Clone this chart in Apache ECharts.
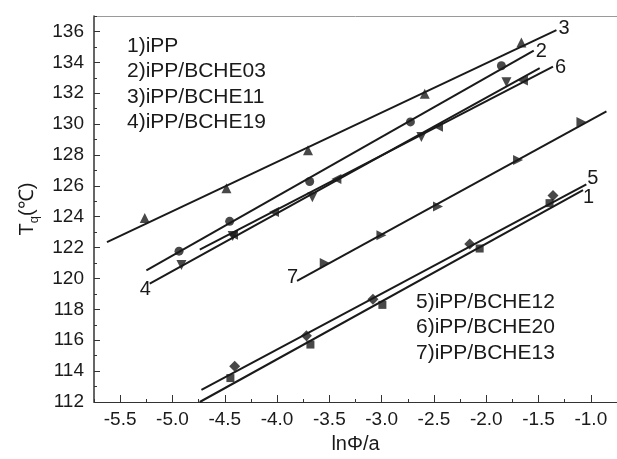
<!DOCTYPE html>
<html>
<head>
<meta charset="utf-8">
<script src="https://cdn.jsdelivr.net/npm/echarts@6/dist/echarts.min.js"></script>
<style>
  html, body { margin: 0; padding: 0; background: #fff; }
  #chart { width: 617px; height: 459px; }
</style>
</head>
<body>
<div id="chart"></div>
<script>
// Tick labels
const xTickLabels = [-5.5, -5.0, -4.5, -4.0, -3.5, -3.0, -2.5, -2.0, -1.5, -1.0];
const yTickLabels = [112, 114, 116, 118, 120, 122, 124, 126, 128, 130, 132, 134, 136];

// Measured points: [lnΦ/a, Tq]
const iPP      = [[-4.446, 113.55], [-3.681, 115.72], [-2.993, 118.29], [-2.063, 121.94], [-1.395, 124.88]];
const bche03   = [[-4.937, 121.77], [-4.453, 123.70], [-3.688, 126.28], [-2.725, 130.14], [-1.855, 133.78]];
const bche11   = [[-5.265, 123.91], [-4.484, 125.84], [-3.704, 128.31], [-2.588, 131.96], [-1.664, 135.29]];
const bche19   = [[-4.914, 120.87], [-4.424, 122.75], [-3.662, 125.26], [-2.620, 129.17], [-1.807, 132.71]];
const bche12   = [[-4.405, 114.32], [-3.719, 116.29], [-3.083, 118.65], [-2.158, 122.24], [-1.362, 125.37]];
const bche20   = [[-4.421, 122.84], [-4.029, 124.30], [-3.433, 126.44], [-2.461, 129.82], [-1.649, 132.82]];
const bche13   = [[-3.544, 121.01], [-3.002, 122.80], [-2.461, 124.67], [-1.696, 127.67], [-1.090, 130.14]];

// Linear fits, drawn between these end points
const fit1 = [[-4.739, 112.00], [-1.075, 125.73]];
const fit2 = [[-5.249, 120.52], [-1.546, 134.75]];
const fit3 = [[-5.626, 122.35], [-1.329, 136.08]];
const fit4 = [[-5.217, 119.66], [-1.489, 133.62]];
const fit5 = [[-4.723, 112.79], [-1.043, 126.10]];
const fit6 = [[-4.739, 121.87], [-1.362, 133.72]];
const fit7 = [[-3.809, 119.84], [-0.851, 130.82]];

// Legend blocks
const legendLeft  = ['1)iPP', '2)iPP/BCHE03', '3)iPP/BCHE11', '4)iPP/BCHE19'];
const legendRight = ['5)iPP/BCHE12', '6)iPP/BCHE20', '7)iPP/BCHE13'];

const FONT = '"Liberation Sans", Arial, sans-serif';
const INK = '#1a1a1a';

const chart = echarts.init(document.getElementById('chart'), null, { renderer: 'canvas' });

function fitSeries(name, pts) {
  return {
    name: name,
    type: 'line',
    xAxisIndex: 0, yAxisIndex: 0,
    data: pts,
    symbol: 'none',
    silent: true,
    z: 2,
    lineStyle: { color: INK, width: 2 }
  };
}

// Number tag placed at one end of a fitted line
function tagItem(pts, tag, side, offset) {
  return {
    value: side === 'left' ? pts[0] : pts[pts.length - 1],
    label: {
      show: true,
      formatter: tag,
      position: side,
      distance: 2,
      offset: offset,
      fontSize: 20,
      fontFamily: FONT,
      color: INK,
      opacity: 1
    }
  };
}

function markSeries(name, pts, symbol, rotate, size) {
  return {
    name: name,
    type: 'scatter',
    xAxisIndex: 0, yAxisIndex: 0,
    data: pts,
    symbol: symbol,
    symbolRotate: rotate,
    symbolSize: size,
    z: 3,
    itemStyle: { color: INK }
  };
}

const baseX = { min: -5.75, max: -0.75, type: 'value', gridIndex: 0 };
const baseY = { min: 112, max: 137, type: 'value', gridIndex: 0 };

const option = {
  animation: false,
  backgroundColor: '#fff',
  grid: { left: 94, right: 0, top: 16, bottom: 54, containLabel: false },
  xAxis: [
    Object.assign({}, baseX, {
      position: 'bottom',
      name: 'lnΦ/a',
      nameLocation: 'middle',
      nameGap: 32,
      nameTextStyle: { fontSize: 20, fontFamily: FONT, color: INK },
      axisLine: { show: true, onZero: false, lineStyle: { color: '#333', width: 1 } },
      axisTick: { show: true, inside: true, length: 7, customValues: xTickLabels, lineStyle: { color: '#333', width: 1 } },
      axisLabel: { show: true, customValues: xTickLabels, margin: 8, fontSize: 19, fontFamily: FONT, color: INK,
                   formatter: v => v.toFixed(1) },
      splitLine: { show: false }
    }),
    Object.assign({}, baseX, {
      position: 'bottom',
      interval: 0.25,
      axisLine: { show: false, onZero: false },
      axisTick: { show: true, inside: true, length: 3, lineStyle: { color: '#333', width: 1 } },
      axisLabel: { show: false },
      splitLine: { show: false }
    }),
    Object.assign({}, baseX, {
      position: 'top',
      axisLine: { show: true, onZero: false, lineStyle: { color: '#9a9a9a', width: 1 } },
      axisTick: { show: false },
      axisLabel: { show: false },
      splitLine: { show: false }
    })
  ],
  yAxis: [
    Object.assign({}, baseY, {
      position: 'left',
      name: '{t|T}{s|q}{t|(℃)}',
      nameLocation: 'middle',
      nameGap: 52,
      nameTextStyle: {
        fontFamily: FONT, color: INK,
        rich: {
          t: { fontSize: 20, fontFamily: FONT, color: INK, lineHeight: 26, verticalAlign: 'bottom' },
          s: { fontSize: 13, fontFamily: FONT, color: INK, lineHeight: 26, verticalAlign: 'bottom', padding: [0, 0, -4, 0] }
        }
      },
      axisLine: { show: true, onZero: false, lineStyle: { color: '#333', width: 1.5 } },
      axisTick: { show: true, inside: true, length: 6, customValues: yTickLabels, lineStyle: { color: '#333', width: 1 } },
      axisLabel: { show: true, customValues: yTickLabels, margin: 10, fontSize: 19, fontFamily: FONT, color: INK },
      splitLine: { show: false }
    }),
    Object.assign({}, baseY, {
      position: 'left',
      interval: 1,
      axisLine: { show: false, onZero: false },
      axisTick: { show: true, inside: true, length: 3, lineStyle: { color: '#333', width: 1 } },
      axisLabel: { show: false },
      splitLine: { show: false }
    })
  ],
  series: [
    fitSeries('fit1', fit1),
    fitSeries('fit2', fit2),
    fitSeries('fit3', fit3),
    fitSeries('fit4', fit4),
    fitSeries('fit5', fit5),
    fitSeries('fit6', fit6),
    fitSeries('fit7', fit7),
    {
      name: 'tags',
      type: 'scatter',
      xAxisIndex: 0, yAxisIndex: 0,
      symbol: 'circle',
      symbolSize: 0,
      silent: true,
      z: 4,
      itemStyle: { color: INK, opacity: 1 },
      data: [
        tagItem(fit1, '1', 'right', [-2, 7]),
        tagItem(fit2, '2', 'right', [0, 1]),
        tagItem(fit3, '3', 'right', [0, -2]),
        tagItem(fit4, '4', 'left', [3, 6]),
        tagItem(fit5, '5', 'right', [-1, -6]),
        tagItem(fit6, '6', 'right', [0, 1]),
        tagItem(fit7, '7', 'left', [3, -3])
      ]
    },
    markSeries('1)iPP', iPP, 'rect', 0, 8),
    markSeries('2)iPP/BCHE03', bche03, 'circle', 0, 9),
    markSeries('3)iPP/BCHE11', bche11, 'triangle', 0, 10),
    markSeries('4)iPP/BCHE19', bche19, 'triangle', 180, 10),
    markSeries('5)iPP/BCHE12', bche12, 'diamond', 0, 11),
    markSeries('6)iPP/BCHE20', bche20, 'triangle', 90, 10),
    markSeries('7)iPP/BCHE13', bche13, 'triangle', -90, 10)
  ],
  graphic: [
    {
      type: 'text', left: 127, top: 33,
      style: { text: legendLeft.join('\n'), font: '21px ' + FONT, fill: INK, lineHeight: 25.6 }
    },
    {
      type: 'text', left: 416, top: 289,
      style: { text: legendRight.join('\n'), font: '21px ' + FONT, fill: INK, lineHeight: 25.8 }
    }
  ]
};

chart.setOption(option);
</script>
</body>
</html>
